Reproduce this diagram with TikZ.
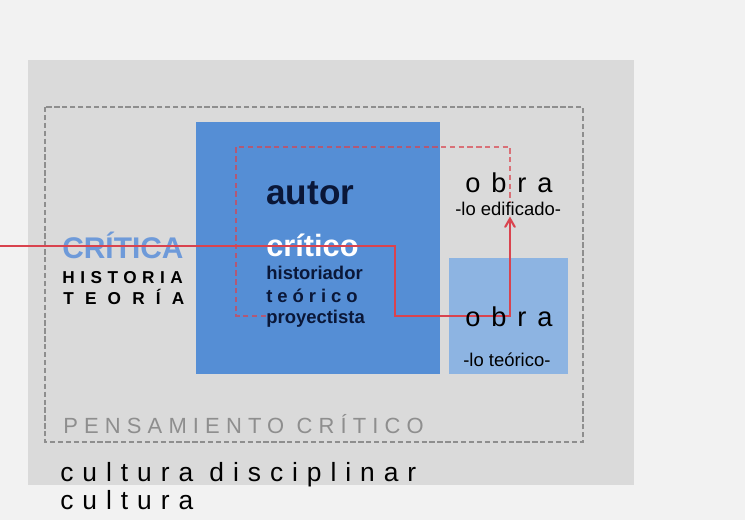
\documentclass[tikz,border=0pt]{standalone}
\usepackage{fontspec}
\setmainfont{Liberation Sans}
\usetikzlibrary{positioning,arrows}

\definecolor{fondo}{HTML}{F2F2F2}
\definecolor{cultgris}{HTML}{DADADA}
\definecolor{autorazul}{HTML}{558ED5}
\definecolor{obraazul}{HTML}{8DB4E2}
\definecolor{criticaazul}{HTML}{6E9AD9}
\definecolor{marino}{HTML}{0A1738}
\definecolor{rojo}{HTML}{D9434E}
\definecolor{pensgris}{HTML}{8E8E8E}

\newcommand{\espaciado}[1]{\addfontfeature{LetterSpace=#1}}

\begin{document}
\begin{tikzpicture}[x=0.02cm,y=-0.02cm
% text styles
		, texto/.style={anchor=base west
							    , inner sep=0pt}
		, critica/.style={texto
							    , text=criticaazul
							    , font=\bfseries\fontsize{17}{20}\selectfont}
		, rotulo/.style={texto
							    , font=\bfseries\fontsize{9.8}{12}\selectfont\espaciado{#1}}
		, autor/.style={texto
							    , text=marino
							    , font=\bfseries\fontsize{20}{24}\selectfont}
		, critico/.style={texto
							    , text=white
							    , font=\bfseries\fontsize{17.5}{20}\selectfont}
		, rol/.style={texto
							    , text=marino
							    , font=\bfseries\fontsize{10.5}{12}\selectfont\espaciado{#1}}
		, rol/.default=0
		, obra/.style={texto
							    , font=\fontsize{15.5}{18}\selectfont\espaciado{40}}
		, nota/.style={texto
							    , font=\fontsize{10.5}{12}\selectfont}
		, pensamiento/.style={texto
							    , text=pensgris
							    , font=\fontsize{12.5}{15}\selectfont\espaciado{28}}
		, cultura/.style={texto
							    , font=\fontsize{15}{18}\selectfont\espaciado{34}}
% lines
		, marco/.style={draw=pensgris
							    , line width=1pt
							    , dash pattern=on 3pt off 1.5pt}
		, marcorojo/.style={draw=rojo
							    , draw opacity=.7
							    , line width=.9pt
							    , dash pattern=on 3pt off 2pt}
		, recorrido/.style={draw=rojo
							    , line width=1.2pt
							    , >=angle 60}
	]
%% backgrounds
		\fill[fondo] (0,0) rectangle (745,520);
		\useasboundingbox (0,0) rectangle (745,520);
		\fill[cultgris] (28,60) rectangle (634,485);
		\draw[marco] (45,107) rectangle (583,442);
		\fill[autorazul] (196,122) rectangle (440,374);
		\fill[obraazul] (449,258) rectangle (568,374);

%% left column
		\node[critica] (critica) at (62,259) {CRÍTICA};
		\node[rotulo=32] (historia) at (62,284) {HISTORIA};
		\node[rotulo=65] (teoria) at (63,305) {TEORÍA};

%% autor box
		\node[autor] (autor) at (266,205) {autor};
		\node[critico] (critico) at (266,257) {crítico};
		\node[rol] (historiador) at (266,280) {historiador};
		\node[rol=27] (teorico) at (266,303) {teórico};
		\node[rol] (proy) at (266,324) {proyectista};

%% obra
		\node[nota] (edif) at (455,216) {-lo edificado-};
		\coordinate (giro) at (510,316);
		\coordinate (entrada) at (0,246);

%% red paths
		\draw[marcorojo] (proy.west |- giro) -- (236,316) -- (236,147) -- (giro |- 0,147) -- (giro |- edif.north);
		\draw[recorrido,->] (entrada) -- (395,246) |- (giro) -- (giro |- edif.south);

		\node[obra] (obra1) at (465,193) {obra};
		\node[obra] (obra2) at (465,327) {obra};
		\node[nota] (teorico2) at (463,367) {-lo teórico-};

%% bottom
		\node[pensamiento] (pens) at (63,434) {PENSAMIENTO CRÍTICO};
		\node[cultura] (disc) at (60,482) {cultura disciplinar};
		\node[cultura] (cult) at (60,510) {cultura};
\end{tikzpicture}
\end{document}
